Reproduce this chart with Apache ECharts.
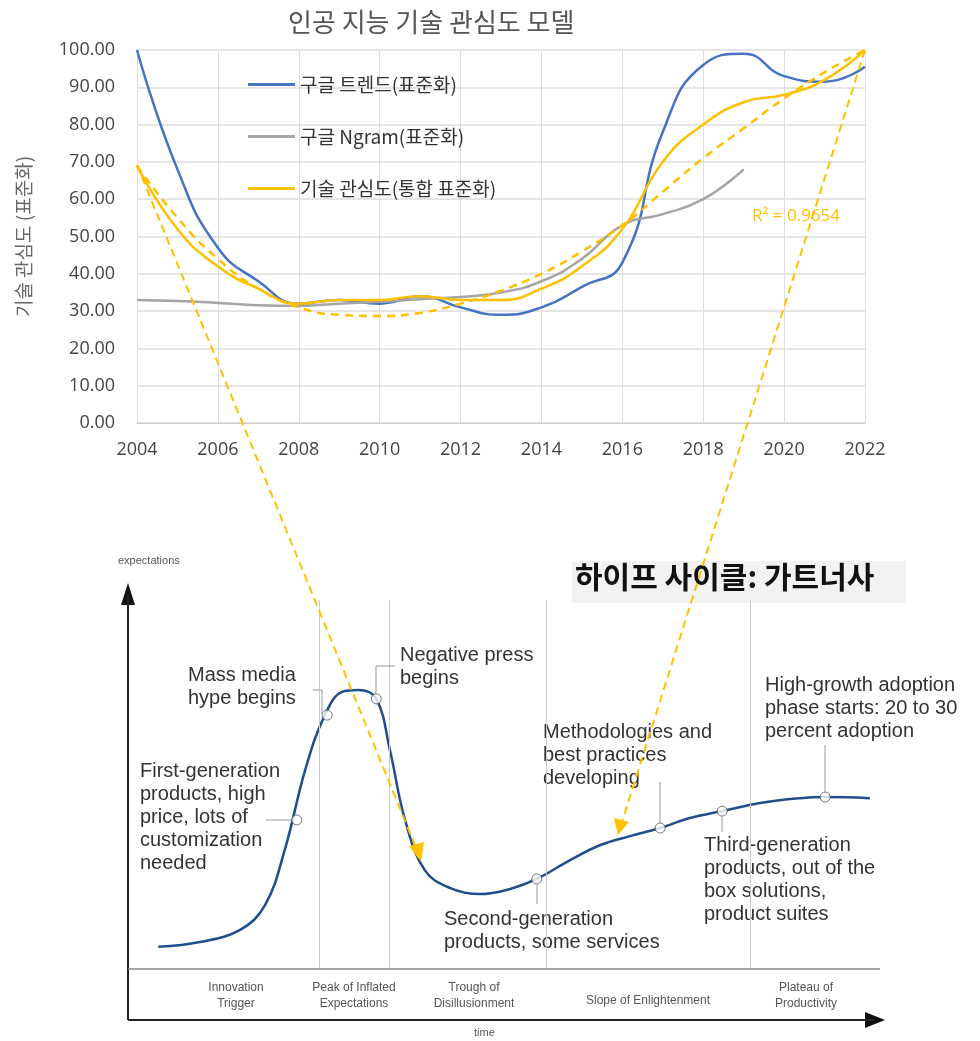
<!DOCTYPE html>
<html><head><meta charset="utf-8">
<script src="https://cdn.jsdelivr.net/npm/echarts@6/dist/echarts.min.js"></script>
<style>body{margin:0;background:#fff}#main{width:980px;height:1041px}</style>
</head><body><div id="main"></div>
<script>
// 상단 차트 데이터
var years = ['2004','2005','2006','2007','2008','2009','2010','2011','2012','2013','2014','2015','2016','2017','2018','2019','2020','2021','2022'];
var googleTrend = [100,68,47,38,32,33,32,34,31,29,31,36.5,43,78,96,99,93,91.5,95.5];
var googleNgram = [33,32.7,32.2,31.6,31.4,32,32.5,33.2,33.8,35,38,44,53,56,60,68];
var interest = [69,52,42,36,32,33,33,34,33,33,36,42,52,70,80,86,88,92,100];
var trendFit = [69,55,44,36,31,29,28.7,29.5,32,35.5,40,46,53,62,71,79,87,94,100];

// 하이프 사이클 (시간, 기대치)
var hypeCurve = [[4,6],[9.5,7.3],[14.8,10.6],[18.1,17.3],[20.7,32.2],[23.4,53.9],[26,68.8],[28.3,75.1],[30.4,75.6],[32.8,73.2],[34.6,59.3],[36.6,40.4],[39.2,26.8],[42.5,22],[46.5,20.3],[50.5,21.7],[54,24.4],[58.4,29.5],[62.4,33.6],[66.3,36],[70.3,38.2],[74.2,40.9],[78.5,42.8],[83.5,45],[88.8,46.3],[92.1,46.6],[98,46.3]];
var hypeMarkers = [[22.3,40.4],[26.3,68.8],[32.8,73.2],[54,24.4],[70.3,38.2],[78.5,42.8],[92.1,46.6]];
var phaseBounds = [25.2,34.5,55.2,82.2];

var orange = '#FFC000', blue = '#4472C4', gray = '#A5A5A5';
var chart = echarts.init(document.getElementById('main'));

function txt(x, y, s) {
  return {type:'text', left:x, top:y, style:{text:s, fill:'#333', font:'20px Arial, sans-serif', lineHeight:23}};
}
function phase(cx, y, s) {
  return {type:'text', x:cx, y:y, style:{text:s, fill:'#555', font:'12px Arial', align:'center', lineHeight:16}};
}
function ln(x1,y1,x2,y2,c,w,dash) {
  return {type:'line', shape:{x1:x1,y1:y1,x2:x2,y2:y2}, style:{stroke:c||'#999', lineWidth:w||1, lineDash:dash||null}, z:20};
}

chart.setOption({
  animation:false,
  title:{text:'인공 지능 기술 관심도 모델', left:283, top:4, textStyle:{fontFamily:'Noto Sans CJK KR', fontWeight:'normal', fontSize:26, color:'#555'}},
  legend:{orient:'vertical', left:243, top:70, itemGap:33, itemWidth:47, itemHeight:3,
    data:[{name:'구글 트렌드(표준화)', icon:'rect'},{name:'구글 Ngram(표준화)', icon:'rect'},{name:'기술 관심도(통합 표준화)', icon:'rect'}],
    textStyle:{fontFamily:'Noto Sans CJK KR', fontSize:19, color:'#333'}},
  grid:[
    {left:137, right:115, top:50, bottom:618},
    {left:128, right:95, top:600, bottom:72}
  ],
  xAxis:[
    {type:'category', data:years, boundaryGap:false, gridIndex:0,
     axisLine:{lineStyle:{color:'#ccc'}}, axisTick:{show:false},
     axisLabel:{interval:1, color:'#444', fontSize:18, margin:18, fontFamily:'Open Sans'},
     splitLine:{show:true, interval:1, lineStyle:{color:'#ddd'}}},
    {type:'value', gridIndex:1, min:0, max:100, show:false}
  ],
  yAxis:[
    {type:'value', gridIndex:0, min:0, max:100, interval:10,
     name:'기술 관심도 (표준화)', nameLocation:'middle', nameGap:104, nameRotate:90,
     nameTextStyle:{fontFamily:'Noto Sans CJK KR', fontSize:19, color:'#666'},
     axisLabel:{formatter:function(v){return v.toFixed(2);}, color:'#444', fontSize:18, margin:22, fontFamily:'Open Sans'},
     splitLine:{lineStyle:{color:'#ddd', width:1.5}}},
    {type:'value', gridIndex:1, min:0, max:100, show:false}
  ],
  series:[
    {name:'구글 트렌드(표준화)', type:'line', data:googleTrend, smooth:0.5, symbol:'none', lineStyle:{color:blue, width:2.5}, itemStyle:{color:blue}},
    {name:'구글 Ngram(표준화)', type:'line', data:googleNgram, smooth:0.5, symbol:'none', lineStyle:{color:gray, width:2.5}, itemStyle:{color:gray}},
    {name:'기술 관심도(통합 표준화)', type:'line', data:interest, smooth:0.5, symbol:'none', lineStyle:{color:orange, width:2.5}, itemStyle:{color:orange}},
    {name:'추세', type:'line', data:trendFit, smooth:0.5, symbol:'none', lineStyle:{color:orange, width:2.5, type:[8,6]}},
    {name:'hype', type:'line', xAxisIndex:1, yAxisIndex:1, data:hypeCurve, smooth:0.4, symbol:'none',
     lineStyle:{color:'#1f4e8c', width:2.5},
     markLine:{silent:true, symbol:'none', label:{show:false}, lineStyle:{color:'#ccc', type:'solid', width:1},
       data:phaseBounds.map(function(v){return {xAxis:v};})}},
    {name:'markers', type:'scatter', xAxisIndex:1, yAxisIndex:1, data:hypeMarkers, symbolSize:10, z:5,
     itemStyle:{color:'#fff', borderColor:'#555', borderWidth:1}}
  ],
  graphic:[
    {type:'text', left:752, top:208, style:{text:'R² = 0.9654', fill:orange, font:'17px "Open Sans", sans-serif'}},
    // 하이프 사이클 축
    ln(128,1020,875,1020,'#222',2), {type:'polygon', shape:{points:[[885,1020],[865,1012],[865,1028]]}, style:{fill:'#111'}},
    ln(128,1020,128,595,'#222',2), {type:'polygon', shape:{points:[[128,583],[121,605],[135,605]]}, style:{fill:'#111'}},
    ln(128,969,880,969,'#888',1.5),
    {type:'text', left:118, top:555, style:{text:'expectations', fill:'#555', font:'11px Arial'}},
    {type:'text', left:474, top:1027, style:{text:'time', fill:'#555', font:'11px Arial'}},
    phase(236,980,'Innovation\nTrigger'),
    phase(354,980,'Peak of Inflated\nExpectations'),
    phase(474,980,'Trough of\nDisillusionment'),
    phase(648,993,'Slope of Enlightenment'),
    phase(806,980,'Plateau of\nProductivity'),
    // 주석
    txt(140,760,'First-generation\nproducts, high\nprice, lots of\ncustomization\nneeded'), ln(266,820,292,820),
    txt(188,664,'Mass media\nhype begins'), ln(313,690,322,690), ln(322,690,322,714),
    txt(400,644,'Negative press\nbegins'), ln(376,694,376,666), ln(376,666,395,666),
    txt(543,721,'Methodologies and\nbest practices\ndeveloping'), ln(660,782,660,823),
    txt(444,908,'Second-generation\nproducts, some services'), ln(537,884,537,904),
    txt(704,834,'Third-generation\nproducts, out of the\nbox solutions,\nproduct suites'), ln(722,816,722,832),
    txt(765,674,'High-growth adoption\nphase starts: 20 to 30\npercent adoption'), ln(825,745,825,792),
    {type:'rect', shape:{x:572,y:561,width:334,height:42}, style:{fill:'#f2f2f2'}, z:1},
    {type:'text', left:575, top:562, z:2, style:{text:'하이프 사이클: 가트너사', fill:'#111', font:'bold 30px "Noto Sans CJK KR"'}},
    // 점선 화살표
    ln(137,165,417,850,orange,2,[8,5]), {type:'polygon', z:20, shape:{points:[[421,862],[409,846],[424,842]]}, style:{fill:orange}},
    ln(865,50,622,822,orange,2,[8,5]), {type:'polygon', z:20, shape:{points:[[618,835],[614,818],[629,822]]}, style:{fill:orange}}
  ]
});
</script></body></html>
